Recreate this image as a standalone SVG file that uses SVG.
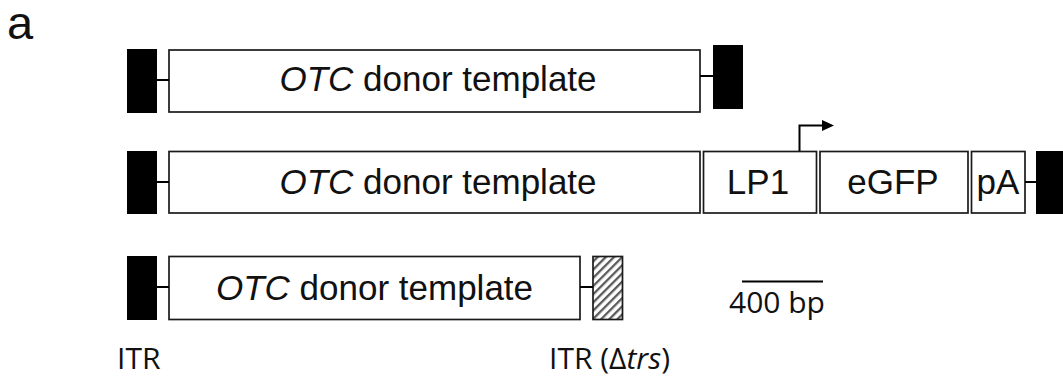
<svg xmlns="http://www.w3.org/2000/svg" width="1063" height="381" viewBox="0 0 1063 381">
  <style>
    .box { fill: #ffffff; stroke: #1a1a1a; stroke-width: 1.7; }
    .itr { fill: #000000; }
    .link { stroke: #000000; stroke-width: 2; fill: none; }
    .lbl { font-family: "Liberation Sans", Arial, sans-serif; font-size: 35px; fill: #111111; text-anchor: middle; }
    .cap { font-family: "Open Sans", "Noto Sans", sans-serif; font-size: 30px; fill: #111111; }
  </style>
  <defs>
    <pattern id="hatch" width="5.8" height="5.8" patternUnits="userSpaceOnUse" patternTransform="rotate(45)">
      <rect x="0" y="0" width="2.3" height="5.8" fill="#5a5a5a"/>
    </pattern>
    <marker id="arrowhead" markerWidth="12" markerHeight="11" refX="1" refY="5.5" orient="auto" markerUnits="userSpaceOnUse">
      <path d="M0,0 L12,5.5 L0,11 Z" fill="#000000"/>
    </marker>
  </defs>

  <rect width="1063" height="381" fill="#ffffff"/>

  <!-- panel letter -->
  <text x="7" y="39" font-family="Liberation Sans, Arial, sans-serif" font-size="47" fill="#111111">a</text>

  <!-- construct 1 -->
  <g id="c1-itr-left"><rect class="itr" x="127" y="49" width="30" height="64"/></g>
  <g id="c1-otc">
    <rect class="box" x="169" y="50" width="531" height="62"/>
    <text class="lbl" x="438" y="91"><tspan font-style="italic">OTC</tspan> donor template</text>
  </g>
  <g id="c1-itr-right"><rect class="itr" x="713" y="45" width="30" height="64"/></g>

  <!-- construct 2 -->
  <g id="c2-itr-left"><rect class="itr" x="127" y="151" width="30" height="63"/></g>
  <g id="c2-otc">
    <rect class="box" x="169" y="151.5" width="531" height="61.5"/>
    <text class="lbl" x="438" y="194"><tspan font-style="italic">OTC</tspan> donor template</text>
  </g>
  <g id="c2-lp1">
    <rect class="box" x="703.5" y="151.5" width="113" height="61.5"/>
    <text class="lbl" x="758" y="194">LP1</text>
  </g>
  <g id="c2-egfp">
    <rect class="box" x="820" y="151.5" width="148" height="61.5"/>
    <text class="lbl" x="893" y="194">eGFP</text>
  </g>
  <g id="c2-pa">
    <rect class="box" x="971.5" y="151.5" width="53.5" height="61.5"/>
    <text class="lbl" x="998" y="194">pA</text>
  </g>
  <g id="c2-itr-right"><rect class="itr" x="1036" y="151" width="30" height="63"/></g>

  <!-- construct 3 -->
  <g id="c3-itr-left"><rect class="itr" x="127" y="256" width="30" height="64"/></g>
  <g id="c3-otc">
    <rect class="box" x="169" y="256.5" width="411" height="63"/>
    <text class="lbl" x="374.5" y="300"><tspan font-style="italic">OTC</tspan> donor template</text>
  </g>
  <g id="c3-itr-mutant">
    <rect x="593" y="256.5" width="29.5" height="63" fill="#ffffff"/>
    <rect x="593" y="256.5" width="29.5" height="63" fill="url(#hatch)" stroke="#1a1a1a" stroke-width="1.7"/>
  </g>

  <!-- scale bar -->
  <g id="scale-bar">
    <line x1="742" y1="281.5" x2="823" y2="281.5" stroke="#000000" stroke-width="2"/>
    <text class="cap" x="729" y="313" font-size="31">400 bp</text>
  </g>

  <!-- element legends -->
  <g id="legend-itr"><text class="cap" x="117" y="369">ITR</text></g>
  <g id="legend-itr-dtrs"><text class="cap" x="549" y="369">ITR (Δ<tspan font-style="italic">trs</tspan>)</text></g>

  <!-- joining lines and promoter arrow -->
  <g id="connectors">
    <line class="link" x1="157" y1="80" x2="169" y2="80"/>
    <line class="link" x1="700" y1="76" x2="713" y2="76"/>
    <line class="link" x1="157" y1="182" x2="169" y2="182"/>
    <line class="link" x1="1025" y1="182" x2="1036" y2="182"/>
    <line class="link" x1="157" y1="287" x2="169" y2="287"/>
    <line class="link" x1="580" y1="287" x2="593" y2="287"/>
    <path class="link" d="M799.5,151 V125.5 H823" marker-end="url(#arrowhead)"/>
  </g>
</svg>
